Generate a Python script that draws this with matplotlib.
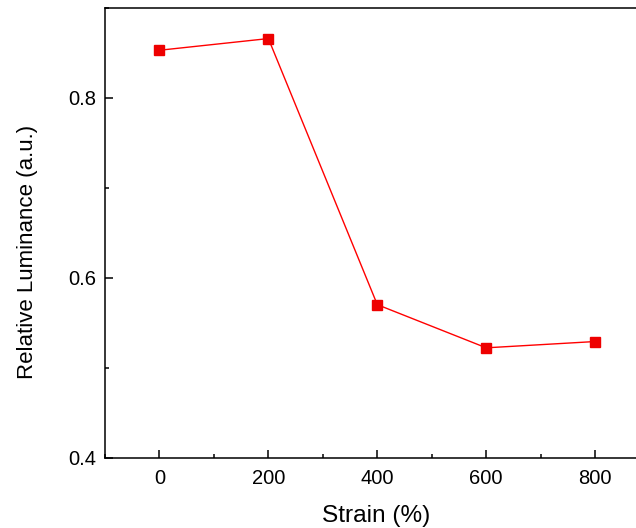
import matplotlib
matplotlib.use("Agg")
import matplotlib.pyplot as plt
from matplotlib.ticker import MultipleLocator

plt.rcParams['font.family'] = ['Liberation Sans', 'DejaVu Sans']

strain = [0, 200, 400, 600, 800]
luminance = [0.853, 0.866, 0.570, 0.522, 0.529]
xticks = [0, 200, 400, 600, 800]
yticks = [0.4, 0.6, 0.8]

fig = plt.figure(figsize=(6.36, 5.28), dpi=100)
ax = fig.add_axes([105/636, 70.5/528, 1 - 105/636, 449.5/528])

ax.plot(strain, luminance, color='#ff0000', lw=1.0, marker='s', ms=7.5,
        mfc='#ee0000', mec='#ee0000', clip_on=False, zorder=3)

ax.set_xlim(-100, 875)
ax.set_ylim(0.4, 0.9)
ax.set_xticks(xticks)
ax.set_yticks(yticks)
ax.set_yticklabels([f"{v:.1f}" for v in yticks])
ax.xaxis.set_minor_locator(MultipleLocator(100))
ax.yaxis.set_minor_locator(MultipleLocator(0.1))

ax.spines['right'].set_visible(False)
for s in ['left', 'bottom', 'top']:
    ax.spines[s].set_linewidth(1.1)

ax.tick_params(which='major', direction='in', length=6, width=1.1, labelsize=14.5)
ax.tick_params(axis='x', which='major', pad=8)
ax.tick_params(axis='y', which='major', pad=6.5)
ax.tick_params(which='minor', direction='in', length=3, width=1.1)
ax.tick_params(top=False, right=False, which='both')

ax.set_xlabel('Strain (%)', fontsize=17.6)
ax.set_ylabel('Relative Luminance (a.u.)', fontsize=16)
ax.xaxis.set_label_coords(0.510, -0.1046)
ax.yaxis.set_label_coords(-0.127, 0.458)

fig.savefig('out.png', dpi=100)
